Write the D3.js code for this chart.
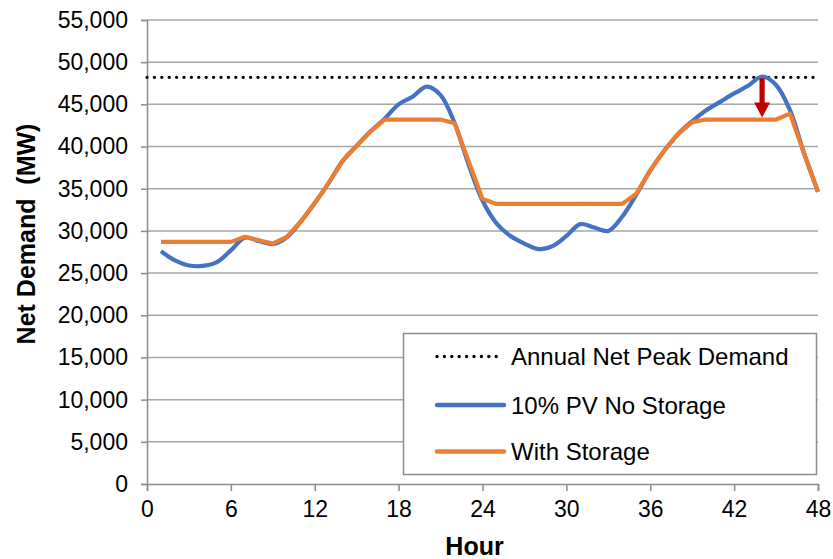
<!DOCTYPE html>
<html>
<head>
<meta charset="utf-8">
<script src="https://cdn.jsdelivr.net/npm/d3@7"></script>
<style>
  html, body { margin: 0; padding: 0; background: #ffffff; }
  svg { display: block; }
  text { font-family: "Liberation Sans", Arial, sans-serif; fill: #000; }
</style>
</head>
<body>
<div id="chart"></div>
<script>
// Hourly net demand (MW) over two days
const hours = [1, 2, 3, 4, 5, 6, 7, 8, 9, 10, 11, 12, 13, 14, 15, 16, 17, 18, 19, 20, 21, 22, 23, 24,
               25, 26, 27, 28, 29, 30, 31, 32, 33, 34, 35, 36, 37, 38, 39, 40, 41, 42, 43, 44, 45, 46, 47, 48];

const pvNoStorage = [27600, 26500, 25900, 25850, 26300, 27700, 29200, 28800, 28450, 29250, 31100, 33300,
                     35700, 38300, 40100, 41800, 43300, 45000, 45900, 47100, 46100, 42800, 37900, 33600,
                     30900, 29400, 28500, 27850, 28200, 29400, 30800, 30400, 30000, 31700, 34300, 37150,
                     39500, 41500, 43000, 44300, 45300, 46300, 47200, 48300, 47300, 44300, 39200, 34650];

const withStorage = [28700, 28700, 28700, 28700, 28700, 28700, 29300, 28900, 28500, 29300, 31100, 33300,
                     35700, 38300, 40100, 41800, 43200, 43200, 43200, 43200, 43200, 42750, 38300, 33800,
                     33200, 33200, 33200, 33200, 33200, 33200, 33200, 33200, 33200, 33200, 34400, 37200,
                     39500, 41500, 42900, 43200, 43200, 43200, 43200, 43200, 43200, 43900, 39200, 34650];

const annualPeakHours = [0, 48];
const annualPeak = 48200;

// Peak reduction marker: from the peak down to the stored level at hour 44
const arrowHour = 44;
const arrowFrom = 48100;
const arrowTo = 43200;

const xTicks = [0, 6, 12, 18, 24, 30, 36, 42, 48];
const yTicks = [0, 5000, 10000, 15000, 20000, 25000, 30000, 35000, 40000, 45000, 50000, 55000];

const legendItems = ["Annual Net Peak Demand", "10% PV No Storage", "With Storage"];

const W = 833, H = 559;
const margin = { top: 20, right: 15, bottom: 75, left: 147 };
const iw = W - margin.left - margin.right;
const ih = H - margin.top - margin.bottom;

const blue = "#4472c4", orange = "#ed7d31", grid = "#a6a6a6", axisGray = "#8c8c8c";
const FONT = "Liberation Sans, Arial, sans-serif";

const svg = d3.select("#chart").append("svg").attr("width", W).attr("height", H);
const g = svg.append("g").attr("transform", `translate(${margin.left},${margin.top})`);

const x = d3.scaleLinear().domain([0, 48]).range([0, iw]);
const y = d3.scaleLinear().domain([0, 55000]).range([ih, 0]);

// Horizontal gridlines
g.append("g").selectAll("line").data(yTicks.filter(d => d > 0)).join("line")
  .attr("x1", 0).attr("x2", iw)
  .attr("y1", d => y(d)).attr("y2", d => y(d))
  .attr("stroke", grid).attr("stroke-width", 1.5);

// Y axis
const yAxis = g.append("g").call(d3.axisLeft(y).tickValues(yTicks).tickSize(6).tickPadding(13)
  .tickFormat(d3.format(",")));
yAxis.select(".domain").attr("stroke", axisGray).attr("stroke-width", 1.5);
yAxis.selectAll(".tick line").attr("stroke", axisGray).attr("stroke-width", 1.5);
yAxis.selectAll(".tick text").attr("font-size", 23).attr("font-family", FONT).attr("fill", "#000");

// X axis
const xAxis = g.append("g").attr("transform", `translate(0,${ih})`)
  .call(d3.axisBottom(x).tickValues(xTicks).tickSize(7).tickPadding(10));
xAxis.select(".domain").attr("stroke", axisGray).attr("stroke-width", 1.5);
xAxis.selectAll(".tick line").attr("stroke", axisGray).attr("stroke-width", 1.5);
xAxis.selectAll(".tick text").attr("font-size", 23).attr("font-family", FONT).attr("fill", "#000");

// Axis titles
svg.append("text").attr("x", margin.left + iw / 2 - 8).attr("y", 555)
  .attr("text-anchor", "middle").attr("font-size", 25).attr("font-weight", "bold").text("Hour");
svg.append("text").attr("transform", "translate(35,234) rotate(-90)")
  .attr("text-anchor", "middle").attr("font-size", 25).attr("font-weight", "bold")
  .attr("xml:space", "preserve").text("Net Demand  (MW)");

// Annual net peak (dotted)
g.append("path")
  .datum(annualPeakHours)
  .attr("d", d3.line().x(d => x(d)).y(() => y(annualPeak)))
  .attr("fill", "none").attr("stroke", "#000").attr("stroke-width", 3.4)
  .attr("stroke-linecap", "round").attr("stroke-dasharray", "0,7.4");

// Net demand series
const pts = vals => hours.map((h, i) => [h, vals[i]]);
g.append("path").datum(pts(pvNoStorage))
  .attr("d", d3.line().x(d => x(d[0])).y(d => y(d[1])).curve(d3.curveCatmullRom.alpha(0.5)))
  .attr("fill", "none").attr("stroke", blue).attr("stroke-width", 4.2).attr("stroke-linejoin", "round");
g.append("path").datum(pts(withStorage))
  .attr("d", d3.line().x(d => x(d[0])).y(d => y(d[1])))
  .attr("fill", "none").attr("stroke", orange).attr("stroke-width", 4.2).attr("stroke-linejoin", "round");

// Down arrow showing peak reduction
const ax = x(arrowHour), ay0 = y(arrowFrom), ay1 = y(arrowTo) - 2;
const headH = 15, headW = 8, shaftW = 2.6;
g.append("path")
  .attr("d", `M${ax - shaftW},${ay0} L${ax + shaftW},${ay0} L${ax + shaftW},${ay1 - headH} L${ax + headW},${ay1 - headH}
              L${ax},${ay1} L${ax - headW},${ay1 - headH} L${ax - shaftW},${ay1 - headH} Z`)
  .attr("fill", "#c00000");

// Legend
const lg = svg.append("g");
lg.append("rect").attr("x", 403.5).attr("y", 333.5).attr("width", 413).attr("height", 141)
  .attr("fill", "#fff").attr("stroke", axisGray).attr("stroke-width", 1.5);
const rowsY = [356.5, 405, 451.5];
legendItems.forEach((t, i) => {
  const line = lg.append("line").attr("x1", 437).attr("x2", 504).attr("y1", rowsY[i]).attr("y2", rowsY[i]);
  if (i === 0) {
    line.attr("stroke", "#000").attr("stroke-width", 3.4).attr("stroke-linecap", "round")
      .attr("stroke-dasharray", "0,7.4").attr("x1", 437).attr("x2", 497);
  } else {
    line.attr("stroke", i === 1 ? blue : orange).attr("stroke-width", 4.5).attr("stroke-linecap", "round");
  }
  lg.append("text").attr("x", 511).attr("y", rowsY[i] + 8.5).attr("font-size", 24).text(t);
});
</script>
</body>
</html>
